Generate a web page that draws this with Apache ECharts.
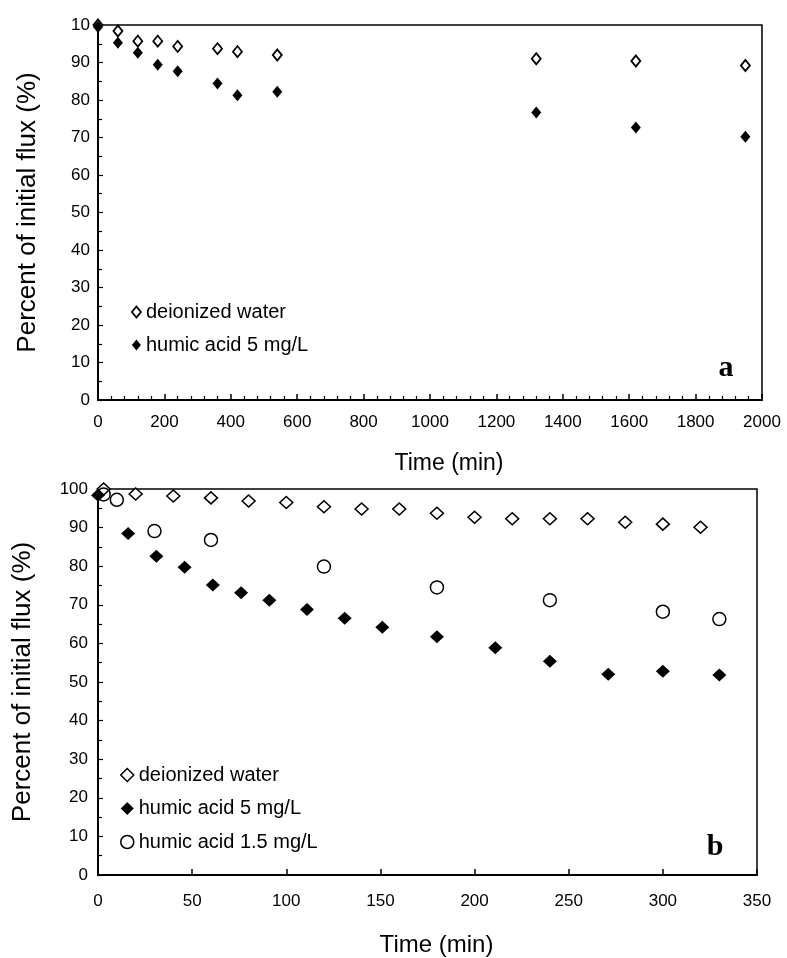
<!DOCTYPE html>
<html>
<head>
<meta charset="utf-8">
<script src="https://cdn.jsdelivr.net/npm/echarts@6/dist/echarts.min.js"></script>
<style>
  html, body { margin: 0; padding: 0; background: #fff; }
  #main { width: 787px; height: 958px; }
</style>
</head>
<body>
<div id="main"></div>
<script>
// panel a: long run
var timeA = [0, 60, 120, 180, 240, 360, 420, 540, 1320, 1620, 1950];
var deionA = [100, 98.4, 95.7, 95.7, 94.3, 93.7, 92.9, 92.0, 91.0, 90.4, 89.2];
var humic5A = [99.5, 95.3, 92.6, 89.4, 87.7, 84.4, 81.3, 82.2, 76.7, 72.7, 70.2];
// the top label is cut to "10" in the original figure
var yLabelsA = ['0', '10', '20', '30', '40', '50', '60', '70', '80', '90', '10'];

// panel b: first 350 min
var timeDeionB = [3, 20, 40, 60, 80, 100, 120, 140, 160, 180, 200, 220, 240, 260, 280, 300, 320];
var deionB = [100, 98.7, 98.2, 97.7, 96.9, 96.5, 95.4, 94.8, 94.8, 93.7, 92.7, 92.3, 92.3, 92.3, 91.4, 90.9, 90.1];
var timeHumic5B = [0, 16, 31, 46, 61, 76, 91, 111, 131, 151, 180, 211, 240, 271, 300, 330];
var humic5B = [98.4, 88.5, 82.6, 79.7, 75.1, 73.1, 71.2, 68.8, 66.5, 64.2, 61.7, 58.9, 55.4, 52.0, 52.8, 51.8];
var timeHumic15B = [3, 10, 30, 60, 120, 180, 240, 300, 330];
var humic15B = [98.6, 97.2, 89.1, 86.8, 79.9, 74.5, 71.2, 68.2, 66.3];

function pairs(xs, ys) {
    return xs.map(function (x, i) { return [x, ys[i]]; });
}

var font = 'Liberation Sans, Arial, sans-serif';
var axisLine = { show: true, lineStyle: { color: '#000', width: 2 } };
var labelStyle = { color: '#000', fontFamily: font, fontSize: 17 };

var myChart = echarts.init(document.getElementById('main'));

var option = {
    animation: false,
    backgroundColor: '#fff',
    grid: [
        { left: 98, top: 25, right: 25, height: 375, show: true, borderColor: '#000', borderWidth: 1.5 },
        { left: 98, top: 489, right: 30, height: 386, show: true, borderColor: '#000', borderWidth: 1.5 }
    ],
    xAxis: [
        {
            gridIndex: 0, type: 'value', min: 0, max: 2000, interval: 200,
            name: 'Time (min)', nameLocation: 'middle', nameGap: 52,
            nameTextStyle: { color: '#000', fontFamily: font, fontSize: 23, padding: [0, 0, 0, 38] },
            axisLine: axisLine,
            axisTick: { show: true, inside: true, length: 6, lineStyle: { color: '#000', width: 1.5 } },
            minorTick: { show: true, splitNumber: 5, length: 4, lineStyle: { color: '#000', width: 1.2 } },
            axisLabel: Object.assign({ margin: 14, formatter: function (v) { return String(v); } }, labelStyle),
            splitLine: { show: false }
        },
        {
            gridIndex: 1, type: 'value', min: 0, max: 350, interval: 50,
            name: 'Time (min)', nameLocation: 'middle', nameGap: 58,
            nameTextStyle: { color: '#000', fontFamily: font, fontSize: 24, padding: [0, 0, 0, 18] },
            axisLine: axisLine,
            axisTick: { show: true, inside: true, length: 6, lineStyle: { color: '#000', width: 1.5 } },
            axisLabel: Object.assign({ margin: 18 }, labelStyle),
            splitLine: { show: false }
        }
    ],
    yAxis: [
        {
            gridIndex: 0, type: 'value', min: 0, max: 100, interval: 10,
            name: 'Percent of initial flux (%)', nameLocation: 'middle', nameGap: 57,
            nameTextStyle: { color: '#000', fontFamily: font, fontSize: 26 },
            axisLine: axisLine,
            axisTick: { show: true, inside: true, length: 5, lineStyle: { color: '#000', width: 1.2 } },
            minorTick: { show: true, splitNumber: 2, length: 4, lineStyle: { color: '#000', width: 1.2 } },
            axisLabel: Object.assign({
                margin: 8,
                formatter: function (v) { return yLabelsA[Math.round(v / 10)]; }
            }, labelStyle),
            splitLine: { show: false }
        },
        {
            gridIndex: 1, type: 'value', min: 0, max: 100, interval: 10,
            name: 'Percent of initial flux (%)', nameLocation: 'middle', nameGap: 62,
            nameTextStyle: { color: '#000', fontFamily: font, fontSize: 26 },
            axisLine: axisLine,
            axisTick: { show: true, inside: true, length: 5, lineStyle: { color: '#000', width: 1.2 } },
            minorTick: { show: true, splitNumber: 2, length: 4, lineStyle: { color: '#000', width: 1.2 } },
            axisLabel: Object.assign({ margin: 10 }, labelStyle),
            splitLine: { show: false }
        }
    ],
    legend: [
        {
            orient: 'vertical', left: 126, top: 297, itemWidth: 9, itemHeight: 11, itemGap: 13,
            textStyle: { color: '#000', fontFamily: font, fontSize: 20, lineHeight: 20 },
            data: [
                { name: 'deionized water', icon: 'diamond', itemStyle: { color: '#fff', borderColor: '#000', borderWidth: 1.8, opacity: 1 } },
                { name: 'humic acid 5 mg/L', icon: 'diamond', itemStyle: { color: '#000', borderColor: '#000', borderWidth: 0, opacity: 1 } }
            ]
        },
        {
            orient: 'vertical', left: 115, top: 760, itemWidth: 13, itemHeight: 13, itemGap: 13.5,
            textStyle: { color: '#000', fontFamily: font, fontSize: 20, lineHeight: 20 },
            data: [
                { name: 'deionized water', icon: 'diamond', itemStyle: { color: '#fff', borderColor: '#000', borderWidth: 1.5, opacity: 1 } },
                { name: 'humic acid 5 mg/L', icon: 'diamond', itemStyle: { color: '#000', borderColor: '#000', borderWidth: 0, opacity: 1 } },
                { name: 'humic acid 1.5 mg/L', icon: 'circle', itemStyle: { color: '#fff', borderColor: '#000', borderWidth: 1.5, opacity: 1 } }
            ]
        }
    ],
    graphic: [
        { type: 'text', x: 726, y: 368, style: { text: 'a', font: 'bold 30px "Liberation Serif", serif', fill: '#000', textAlign: 'center', textVerticalAlign: 'middle' } },
        { type: 'text', x: 715, y: 847, style: { text: 'b', font: 'bold 30px "Liberation Serif", serif', fill: '#000', textAlign: 'center', textVerticalAlign: 'middle' } }
    ],
    series: [
        {
            name: 'deionized water', type: 'scatter', xAxisIndex: 0, yAxisIndex: 0,
            symbol: 'diamond', symbolSize: [9, 11],
            itemStyle: { color: '#fff', borderColor: '#000', borderWidth: 1.8, opacity: 1 },
            data: pairs(timeA, deionA)
        },
        {
            name: 'humic acid 5 mg/L', type: 'scatter', xAxisIndex: 0, yAxisIndex: 0,
            symbol: 'diamond', symbolSize: [10, 12],
            itemStyle: { color: '#000', opacity: 1 },
            data: pairs(timeA, humic5A)
        },
        {
            name: 'deionized water', type: 'scatter', xAxisIndex: 1, yAxisIndex: 1,
            symbol: 'diamond', symbolSize: [13, 12],
            itemStyle: { color: '#fff', borderColor: '#000', borderWidth: 1.5, opacity: 1 },
            data: pairs(timeDeionB, deionB)
        },
        {
            name: 'humic acid 1.5 mg/L', type: 'scatter', xAxisIndex: 1, yAxisIndex: 1,
            symbol: 'circle', symbolSize: 13,
            itemStyle: { color: 'rgba(255,255,255,0)', borderColor: '#000', borderWidth: 1.5, opacity: 1 },
            data: pairs(timeHumic15B, humic15B)
        },
        {
            name: 'humic acid 5 mg/L', type: 'scatter', xAxisIndex: 1, yAxisIndex: 1,
            symbol: 'diamond', symbolSize: [14, 13],
            itemStyle: { color: '#000', opacity: 1 },
            data: pairs(timeHumic5B, humic5B)
        }
    ]
};

myChart.setOption(option);
</script>
</body>
</html>
